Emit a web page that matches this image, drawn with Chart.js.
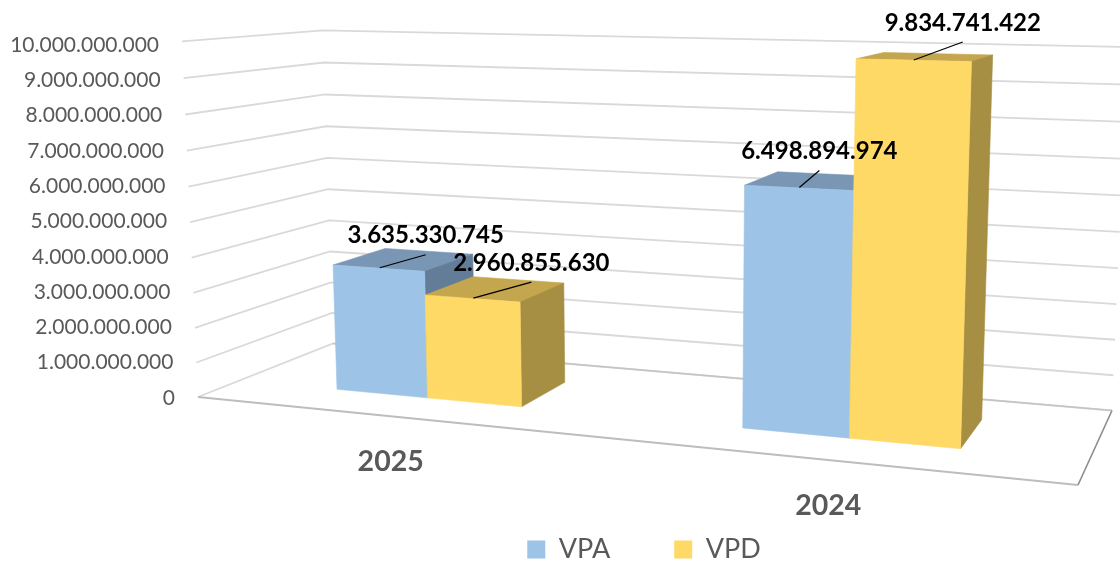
<!DOCTYPE html>
<html><head><meta charset="utf-8">
<style>html,body{margin:0;padding:0;background:#fff}canvas{display:block}</style>
<script src="https://cdn.jsdelivr.net/npm/chart.js@4"></script>
</head><body><canvas id="c" width="1120" height="561"></canvas>
<script>
const categories = ['2025', '2024'];
const vpaValues = [3635330745, 6498894974];
const vpdValues = [2960855630, 9834741422];
const seriesNames = ['VPA', 'VPD'];
const seriesColors = ['#9DC3E6', '#FFD966'];
const topColors = ['#7A96B5', '#C4A64E'];
const sideColors = ['#637D98', '#A68E42'];
const yMax = 10000000000;
const yStep = 1000000000;

const fmt = v => String(Math.round(v)).replace(/\B(?=(\d{3})+(?!\d))/g, '.');

// Projection of the plot box (u across, v up, w into the picture)
const FLOOR = [[198,397],[1078,485],[1112,410.5],[333,343.5]];
const UP = {kx:-22, ky:-356.9, m:-0.03294};
const DEPTH = [0.29, 0.70];
const LEADERS = [[[46,-13],[20,-17]],[[58,-16],[49,-18]]]; // by dataset, then category

function homography(q){
  const [[x0,y0],[x1,y1],[x2,y2],[x3,y3]] = q;
  const sx=x0-x1+x2-x3, sy=y0-y1+y2-y3, dx1=x1-x2, dx2=x3-x2, dy1=y1-y2, dy2=y3-y2;
  const det=dx1*dy2-dx2*dy1, g=(sx*dy2-dx2*sy)/det, h=(dx1*sy-sx*dy1)/det;
  const a=x1-x0+g*x1, b=x3-x0+h*x3, d=y1-y0+g*y1, e=y3-y0+h*y3;
  return {a,b,c:x0,d,e,f:y0,g,h};
}
const H = homography(FLOOR);
function P(u,v,w){
  const n=H.g*u+H.h*w+1+UP.m*v;
  return [(H.a*u+H.b*w+H.c+UP.kx*v)/n,(H.d*u+H.e*w+H.f+UP.ky*v)/n];
}
function poly(ctx,pts,fill){
  ctx.beginPath();
  pts.forEach((p,i)=>i?ctx.lineTo(p[0],p[1]):ctx.moveTo(p[0],p[1]));
  ctx.closePath();
  ctx.fillStyle=fill; ctx.fill();
  ctx.strokeStyle=fill; ctx.lineWidth=0.6; ctx.stroke();
}
function seg(ctx,pts,color,width){
  ctx.beginPath();
  pts.forEach((p,i)=>i?ctx.lineTo(p[0],p[1]):ctx.moveTo(p[0],p[1]));
  ctx.strokeStyle=color; ctx.lineWidth=width; ctx.stroke();
}

const box3d = {
  id:'box3d',
  beforeLayout(chart){
    const lg=chart.legend;
    if(!lg._fit3d){
      const base=lg.fit;
      lg.fit=function(){base.call(this);this.height=89;};
      lg._fit3d=true;
    }
  },
  beforeDatasetsDraw(chart){
    const ctx=chart.ctx, area=chart.chartArea, ys=chart.scales.y, xs=chart.scales.x;
    const U=px=>(px-area.left)/area.width, V=px=>(area.bottom-px)/area.height;
    ctx.save();
    // gridlines on the walls and tick labels
    ys.ticks.forEach(t=>{
      const py=ys.getPixelForValue(t.value), v=V(py);
      seg(ctx,[P(0,v,0),P(0,v,1),P(1,v,1)],'#D9D9D9',1.8);
      ctx.font='21px Lato'; ctx.fillStyle='#595959';
      ctx.textAlign='right'; ctx.textBaseline='middle';
      ctx.fillText(t.label,P(0,v,0)[0]-23,py+2);
    });
    // floor edges
    seg(ctx,[P(0,0,1),P(1,0,1)],'#C4C4C4',1.6);
    seg(ctx,[P(0,0,0),P(1,0,0)],'#BDBDBD',2);
    seg(ctx,[P(1,0,0),P(1,0,1)],'#8C8C8C',1.6);
    // bars
    categories.forEach((c,ci)=>{
      chart.data.datasets.forEach((ds,di)=>{
        const el=chart.getDatasetMeta(di).data[ci];
        const u0=U(el.x-el.width/2), u1=U(el.x+el.width/2), v=V(el.y);
        const [wf,wb]=DEPTH;
        poly(ctx,[P(u0,v,wb),P(u1,v,wb),P(u1,v,wf),P(u0,v,wf)],topColors[di]);
        poly(ctx,[P(u1,v,wf),P(u1,v,wb),P(u1,0,wb),P(u1,0,wf)],sideColors[di]);
        poly(ctx,[P(u0,v,wf),P(u1,v,wf),P(u1,0,wf),P(u0,0,wf)],ds.backgroundColor);
      });
    });
    // category labels
    categories.forEach((c,ci)=>{
      const p=P(U(xs.getPixelForTick(ci)),0,0);
      ctx.font='bold 28.5px Lato'; ctx.fillStyle='#595959';
      ctx.textAlign='center'; ctx.textBaseline='middle';
      ctx.fillText(c,p[0],p[1]+46);
    });
    // value labels with leader lines
    chart.data.datasets.forEach((ds,di)=>{
      chart.getDatasetMeta(di).data.forEach((el,ci)=>{
        const v=V(el.y), s=P(U(el.x),v,DEPTH[0]+0.01), o=LEADERS[di][ci];
        const e=[s[0]+o[0],s[1]+o[1]];
        seg(ctx,[s,e],'#000',1.2);
        ctx.font='bold 24px Lato'; ctx.fillStyle='#000';
        ctx.textAlign='center'; ctx.textBaseline='middle';
        ctx.fillText(fmt(ds.data[ci]),e[0],e[1]-19);
      });
    });
    ctx.restore();
    return false;
  }
};

new Chart(document.getElementById('c'),{
  type:'bar',
  data:{labels:categories,datasets:[
    {label:seriesNames[0],data:vpaValues,backgroundColor:seriesColors[0]},
    {label:seriesNames[1],data:vpdValues,backgroundColor:seriesColors[1]}
  ]},
  options:{
    responsive:false,animation:false,
    categoryPercentage:0.475,barPercentage:1,
    layout:{padding:{left:198,right:30,top:43,bottom:0}},
    scales:{
      x:{afterFit:s=>{s.height=76;},grid:{display:false},border:{display:false},ticks:{display:false}},
      y:{min:0,max:yMax,grid:{display:false},border:{display:false},
         ticks:{display:false,stepSize:yStep,callback:v=>fmt(v)}}
    },
    plugins:{
      tooltip:{enabled:false},
      legend:{position:'bottom',labels:{boxWidth:18,boxHeight:18,padding:64,color:'#595959',font:{family:'Lato',size:27}}}
    }
  },
  plugins:[box3d]
});
</script></body></html>
